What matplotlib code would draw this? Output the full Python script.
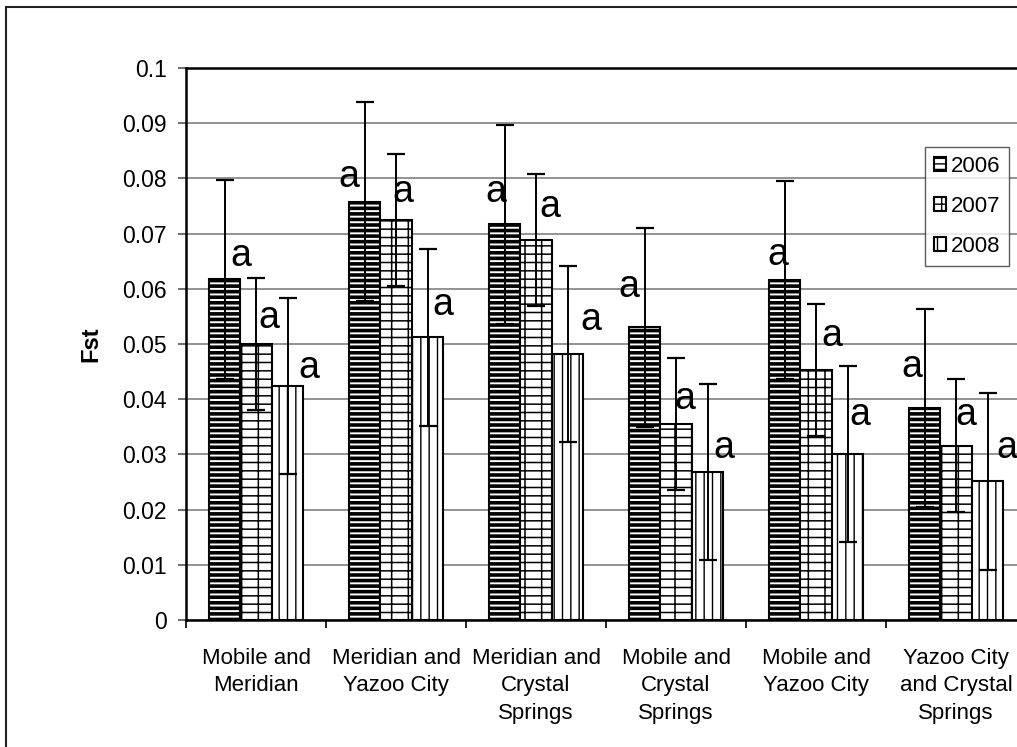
import matplotlib
matplotlib.use("Agg")
import matplotlib.pyplot as plt
from matplotlib.patches import Rectangle
import numpy as np

plt.rcParams['font.family'] = ['Liberation Sans', 'DejaVu Sans']

# Paires de populations (catégories)
categories = ['Mobile and\nMeridian', 'Meridian and\nYazoo City', 'Meridian and\nCrystal\nSprings',
              'Mobile and\nCrystal\nSprings', 'Mobile and\nYazoo City', 'Yazoo City\nand Crystal\nSprings']
years = ['2006', '2007', '2008']

# Valeurs Fst et barres d'erreur par année
fst_2006 = [0.0617, 0.0758, 0.0717, 0.0530, 0.0616, 0.0384]
err_2006 = [0.0180, 0.0180, 0.0180, 0.0180, 0.0180, 0.0180]
fst_2007 = [0.0500, 0.0725, 0.0688, 0.0355, 0.0453, 0.0316]
err_2007 = [0.0120, 0.0120, 0.0120, 0.0120, 0.0120, 0.0120]
fst_2008 = [0.0424, 0.0512, 0.0482, 0.0268, 0.0301, 0.0251]
err_2008 = [0.0160, 0.0160, 0.0160, 0.0160, 0.0160, 0.0160]

# Lettres de significativité
letters_2006 = ['a'] * 6
letters_2007 = ['a'] * 6
letters_2008 = ['a'] * 6

# Placement manuel des lettres (décalage x en unités de catégorie, hauteur y)
letter_dx = [[0.12, 0.09, 0.15], [-0.11, 0.05, 0.11], [-0.06, 0.10, 0.17],
             [-0.11, 0.06, 0.12], [-0.05, 0.11, 0.09], [-0.09, 0.07, 0.14]]
letter_y = [[0.0659, 0.0547, 0.0457], [0.0802, 0.0775, 0.0571], [0.0775, 0.0748, 0.0543],
            [0.0603, 0.0400, 0.0312], [0.0661, 0.0514, 0.0371], [0.0458, 0.0371, 0.0312]]

W, H = 1017, 747
fig = plt.figure(figsize=(W / 100, H / 100), dpi=100)
ax = fig.add_axes([186 / W, (H - 620) / H, 840 / W, 552 / H])

# Cadre extérieur du graphique
fig.patches.append(Rectangle((6 / W, -0.1), 1.2, 1.1 - 7 / H, transform=fig.transFigure,
                             fill=False, edgecolor='#222222', linewidth=1.5))

x = np.arange(len(categories))
width = 0.225
series = [(fst_2006, err_2006, '---', 2.6), (fst_2007, err_2007, '+-', 1.1), (fst_2008, err_2008, '||', 1.0)]
handles = []
for k, (vals, errs, hatch, hlw) in enumerate(series):
    plt.rcParams['hatch.linewidth'] = hlw
    pos = x + (k - 1) * width
    b = ax.bar(pos, vals, width, color='white', edgecolor='black', linewidth=1.5,
               hatch=hatch, label=years[k], zorder=2)
    handles.append(b)
    ax.errorbar(pos, vals, yerr=errs, fmt='none', ecolor='black', elinewidth=1.4,
                capsize=6.5, capthick=1.6, zorder=3)

letters = [letters_2006, letters_2007, letters_2008]
for i in range(len(categories)):
    for k in range(3):
        ax.text(x[i] + (k - 1) * width + letter_dx[i][k], letter_y[i][k], letters[k][i],
                fontsize=27, ha='center', va='center', zorder=4)

ax.set_xlim(-0.5, len(categories) - 0.5)
ax.set_ylim(0, 0.1)
ax.set_yticks(np.arange(0, 0.101, 0.01))
ax.set_yticklabels(['0', '0.01', '0.02', '0.03', '0.04', '0.05', '0.06', '0.07', '0.08', '0.09', '0.1'])
ax.set_xticks(x)
ax.set_xticklabels(categories, fontsize=16, linespacing=1.42)
ax.set_xticks(np.arange(-0.5, len(categories)), minor=True)
ax.tick_params(axis='x', which='major', length=0, pad=20)
ax.tick_params(axis='x', which='minor', length=6, width=1.2, direction='out', color='black')
ax.tick_params(axis='y', labelsize=16.5, length=6, width=1.2, color='#555555', pad=8)

ax.yaxis.grid(True, color='#808080', linewidth=1.2, zorder=0)
ax.set_axisbelow(True)
for s in ax.spines.values():
    s.set_color('black')
    s.set_linewidth(1.8)

ax.set_ylabel('Fst', fontsize=17, fontweight='heavy')
ax.yaxis.set_label_coords(-0.1, 0.5)

leg = ax.legend(handles=handles, loc='upper left', bbox_to_anchor=(925 / W, 1 - 147 / H),
                bbox_transform=fig.transFigure, fontsize=16, frameon=True, fancybox=False,
                handlelength=0.55, handleheight=0.55, handletextpad=0.2, labelspacing=0.85,
                borderpad=0.4, borderaxespad=0)
leg.get_frame().set_edgecolor('#333333')
leg.get_frame().set_linewidth(1.0)

fig.savefig('out.png', dpi=100)
